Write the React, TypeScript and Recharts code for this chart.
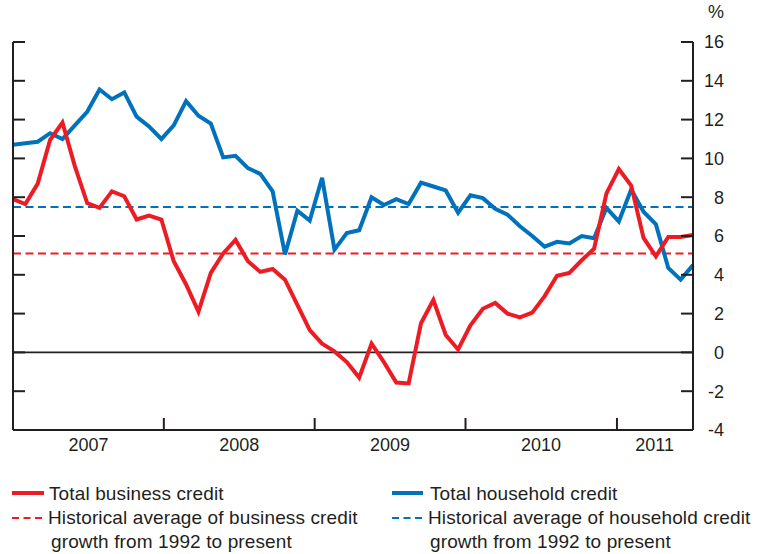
import { LineChart, Line, XAxis, YAxis, ReferenceLine } from 'recharts';

const RED = '#ed1c24';
const BLUE = '#0072bc';
const INK = '#231f20';

// Monthly annual growth, Jan 2007 - Aug 2011 (%)
const businessCredit = [
    7.9, 7.65, 8.7, 10.95, 11.85, 9.6, 7.7, 7.45, 8.3, 8.05, 6.85, 7.05,
    6.85, 4.7, 3.5, 2.1, 4.1, 5.1, 5.8, 4.7, 4.15, 4.3, 3.75, 2.45,
    1.15, 0.45, 0.05, -0.5, -1.3, 0.45, -0.5, -1.55, -1.6, 1.5, 2.7, 0.9,
    0.15, 1.4, 2.25, 2.55, 2.0, 1.8, 2.05, 2.9, 3.95, 4.1, 4.75, 5.35,
    8.2, 9.45, 8.6, 5.9, 4.95, 5.95, 5.95, 6.05,
];
const householdCredit = [
    10.7, 10.78, 10.86, 11.3, 11.0, 11.7, 12.4, 13.55, 13.05, 13.4, 12.15, 11.65,
    11.0, 11.7, 12.95, 12.2, 11.8, 10.05, 10.13, 9.5, 9.2, 8.3, 5.05, 7.3,
    6.8, 9.0, 5.3, 6.15, 6.3, 8.0, 7.6, 7.9, 7.65, 8.75, 8.55, 8.35,
    7.2, 8.1, 7.95, 7.4, 7.1, 6.5, 6.0, 5.45, 5.7, 5.62, 6.0, 5.88,
    7.45, 6.75, 8.4, 7.25, 6.6, 4.35, 3.75, 4.5,
];

// historical averages since 1992
const businessAverage = 5.1;
const householdAverage = 7.5;

const yearLabels = ['2007', '2008', '2009', '2010', '2011'];
const yearLabelAt = [6.1, 18.3, 30.5, 42.7, 51.9];
const yearBreaks = [12.2, 24.4, 36.6, 48.85];
const yTicks = [-4, -2, 0, 2, 4, 6, 8, 10, 12, 14, 16];

const data = businessCredit.map((v, i) => ({
    month: i,
    business: v,
    household: householdCredit[i],
}));

const XTick = ({ x, y, payload }: any) => {
    const idx = yearLabelAt.indexOf(payload.value);
    if (idx >= 0) {
        return (
            <text x={x} y={y + 21} textAnchor="middle" fontSize={18} fill={INK}>
                {yearLabels[idx]}
            </text>
        );
    }
    return <line x1={x} x2={x} y1={y} y2={y - 12} stroke={INK} strokeWidth={2} />;
};

const LeftTick = ({ x, y }: any) => (
    <line x1={x} x2={x + 12} y1={y} y2={y} stroke={INK} strokeWidth={2} />
);

const RightTick = ({ x, y, payload }: any) => (
    <g>
        <line x1={x - 12} x2={x} y1={y} y2={y} stroke={INK} strokeWidth={2} />
        <text x={x + 31} y={y} dy="0.36em" textAnchor="end" fontSize={18} fill={INK}>
            {payload.value}
        </text>
    </g>
);

const legendText = { fontSize: 19, letterSpacing: 0.12, fill: INK };

export default function App() {
    return (
        <div
            style={{
                position: 'absolute',
                left: 0,
                top: 0,
                width: 759,
                height: 554,
                background: '#fff',
                fontFamily: '"Liberation Sans", Arial, Helvetica, sans-serif',
            }}
        >
            <LineChart
                width={759}
                height={554}
                data={data}
                margin={{ top: 42, right: 65, bottom: 94, left: 12 }}
            >
                <XAxis
                    dataKey="month"
                    type="number"
                    domain={[0, 55]}
                    ticks={[...yearBreaks, ...yearLabelAt].sort((a, b) => a - b)}
                    interval={0}
                    height={30}
                    tickSize={0}
                    tickMargin={0}
                    tickLine={false}
                    axisLine={{ stroke: INK, strokeWidth: 2 }}
                    tick={XTick}
                />
                <YAxis
                    yAxisId="left"
                    domain={[-4, 16]}
                    allowDataOverflow
                    ticks={yTicks}
                    interval={0}
                    width={1}
                    tickSize={0}
                    tickMargin={0}
                    tickLine={false}
                    axisLine={{ stroke: INK, strokeWidth: 2 }}
                    tick={LeftTick}
                />
                <YAxis
                    yAxisId="right"
                    orientation="right"
                    domain={[-4, 16]}
                    allowDataOverflow
                    ticks={yTicks}
                    interval={0}
                    width={1}
                    tickSize={0}
                    tickMargin={0}
                    tickLine={false}
                    axisLine={{ stroke: INK, strokeWidth: 2 }}
                    tick={RightTick}
                />
                <ReferenceLine yAxisId="left" y={0} stroke={INK} strokeWidth={1.6} />
                <ReferenceLine yAxisId="left" y={businessAverage} stroke={RED} strokeWidth={2} strokeDasharray="8 4.5" />
                <ReferenceLine yAxisId="left" y={householdAverage} stroke={BLUE} strokeWidth={2} strokeDasharray="8 4.5" />
                {/* both axes share the same -4..16 scale */}
                <Line
                    yAxisId="right"
                    type="linear"
                    dataKey="household"
                    stroke={BLUE}
                    strokeWidth={4}
                    dot={false}
                    isAnimationActive={false}
                />
                <Line
                    yAxisId="left"
                    type="linear"
                    dataKey="business"
                    stroke={RED}
                    strokeWidth={4}
                    dot={false}
                    isAnimationActive={false}
                />
            </LineChart>

            <svg
                width={759}
                height={554}
                style={{ position: 'absolute', left: 0, top: 0, pointerEvents: 'none' }}
            >
                <text x={708} y={18} fontSize={18} fill={INK}>%</text>

                {/* legend, left column */}
                <line x1={12} x2={44} y1={493} y2={493} stroke={RED} strokeWidth={4} />
                <text x={49} y={499.5} {...legendText}>Total business credit</text>
                <line x1={12} x2={44} y1={518} y2={518} stroke={RED} strokeWidth={2} strokeDasharray="7 4.5" />
                <text x={48} y={524} {...legendText}>Historical average of business credit</text>
                <text x={51} y={547.5} {...legendText}>growth from 1992 to present</text>

                {/* legend, right column */}
                <line x1={392} x2={423} y1={493} y2={493} stroke={BLUE} strokeWidth={4} />
                <text x={430} y={499.5} {...legendText}>Total household credit</text>
                <line x1={392} x2={423} y1={518} y2={518} stroke={BLUE} strokeWidth={2} strokeDasharray="7 4.5" />
                <text x={428} y={524} {...legendText}>Historical average of household credit</text>
                <text x={430} y={547.5} {...legendText}>growth from 1992 to present</text>
            </svg>
        </div>
    );
}
